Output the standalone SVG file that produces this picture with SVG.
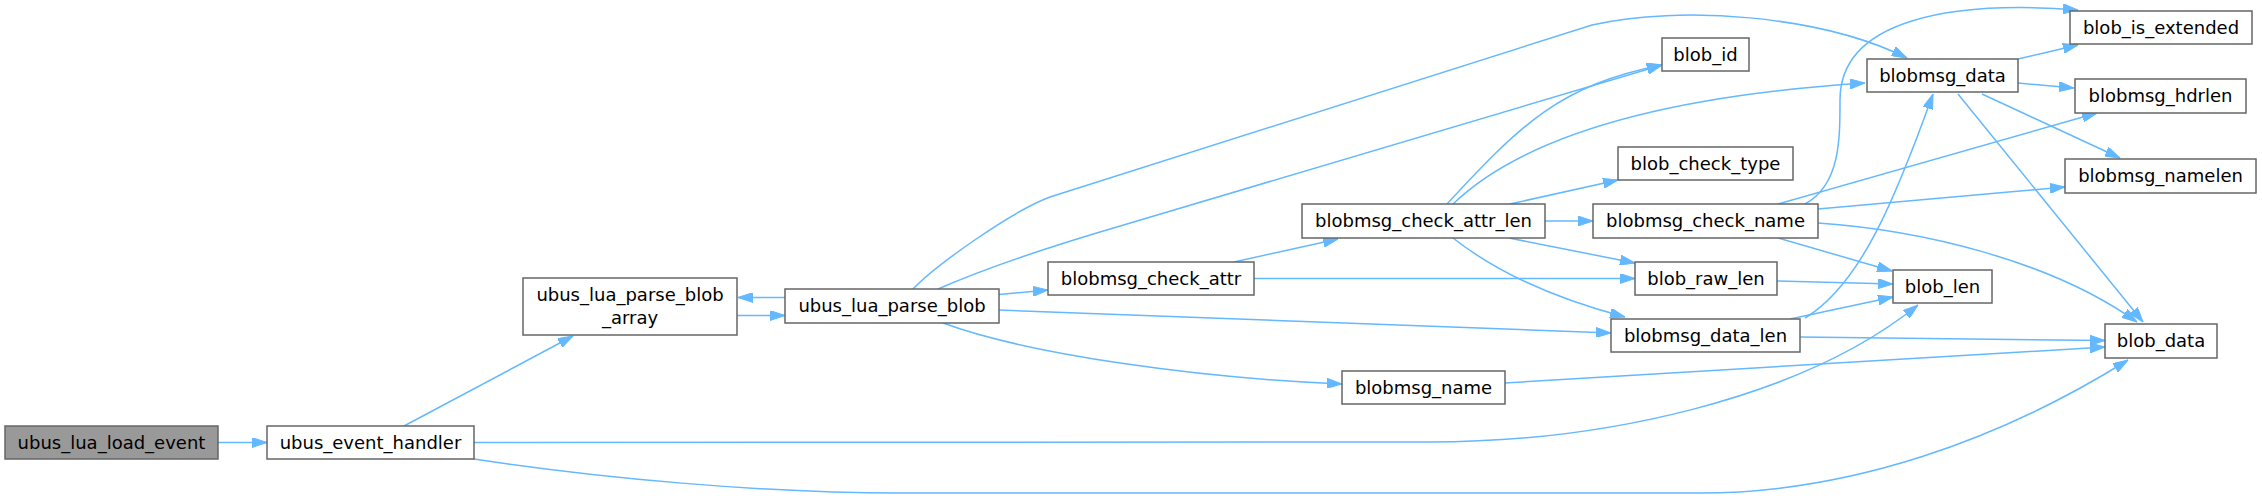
<svg xmlns="http://www.w3.org/2000/svg" width="2262" height="499" viewBox="0 0 2262 499">
<defs>
<style>
.node rect{fill:#ffffff;stroke:#666666;stroke-width:1.5}
.node.start rect{fill:#999999}
.node text{font-family:"DejaVu Sans","Liberation Sans",sans-serif;font-size:18px;fill:#000000;text-anchor:middle}
.edges path{fill:none;stroke:#63b8ff;stroke-width:1.5}
</style>
<marker id="arr" viewBox="0 0 15 10" refX="15" refY="5" markerWidth="15" markerHeight="10" markerUnits="userSpaceOnUse" orient="auto">
<path d="M0,0 L15,5 L0,10 z" fill="#63b8ff" stroke="#63b8ff" stroke-width="1"/>
</marker>
</defs>
<rect x="0" y="0" width="2262" height="499" fill="#ffffff"/>
<g class="edges" marker-end="url(#arr)">
<path marker-end="url(#arr)" d="M218,442.5 L267,442.5"/>
<path marker-end="url(#arr)" d="M404,426 L573,336"/>
<path marker-end="url(#arr)" d="M474,442.5 L1430,442 C1600,442 1800,400 1918,305"/>
<path marker-end="url(#arr)" d="M474,459 C600,478 760,493 900,493 L1700,493 C1850,493 2000,440 2128,360"/>
<path marker-end="url(#arr)" d="M737,315.5 L785,315.5"/>
<path marker-end="url(#arr)" d="M785,297.5 L738,297.5"/>
<path marker-end="url(#arr)" d="M913,289 C935,266 1010,212 1050,197 L1592,25 C1680,5 1820,15 1907,58"/>
<path marker-end="url(#arr)" d="M938,289 Q1000,262 1100,232 L1662,65"/>
<path marker-end="url(#arr)" d="M999,294.5 L1048,290"/>
<path marker-end="url(#arr)" d="M999,310 L1611,333"/>
<path marker-end="url(#arr)" d="M943,323 C1030,355 1200,378 1342,384"/>
<path marker-end="url(#arr)" d="M1234,262 L1338,239"/>
<path marker-end="url(#arr)" d="M1254,278.5 L1635,278.5"/>
<path marker-end="url(#arr)" d="M1447,204 C1520,125 1560,85 1662,65"/>
<path marker-end="url(#arr)" d="M1453,204 C1530,130 1680,95 1865,83"/>
<path marker-end="url(#arr)" d="M1510,204 L1618,180"/>
<path marker-end="url(#arr)" d="M1545,221 L1593,221"/>
<path marker-end="url(#arr)" d="M1509,238 L1635,263"/>
<path marker-end="url(#arr)" d="M1453,238 C1500,275 1560,300 1625,317"/>
<path marker-end="url(#arr)" d="M1805,204 C1840,185 1840,140 1840,100 C1840,20 1950,0 2078,10"/>
<path marker-end="url(#arr)" d="M1778,204 L2097,113"/>
<path marker-end="url(#arr)" d="M1818,209 L2065,187"/>
<path marker-end="url(#arr)" d="M1818,223 C1920,230 2050,260 2137,322"/>
<path marker-end="url(#arr)" d="M1778,238 L1892,271"/>
<path marker-end="url(#arr)" d="M2018,59 L2078,45"/>
<path marker-end="url(#arr)" d="M2018,83 L2074,88"/>
<path marker-end="url(#arr)" d="M1982,94 L2120,158"/>
<path marker-end="url(#arr)" d="M1958,94 L2143,322"/>
<path marker-end="url(#arr)" d="M1777,281 L1893,284"/>
<path marker-end="url(#arr)" d="M1805,318 C1860,285 1895,200 1933,94"/>
<path marker-end="url(#arr)" d="M1790,319 L1893,297"/>
<path marker-end="url(#arr)" d="M1800,337 L2105,340.5"/>
<path marker-end="url(#arr)" d="M1505,383 L2105,347"/>
</g>
<g id="ubus_lua_load_event" class="node start"><rect x="5" y="426" width="213" height="33"/><text x="111.5" y="449">ubus_lua_load_event</text></g>
<g id="ubus_event_handler" class="node"><rect x="267" y="426" width="207" height="33"/><text x="370.5" y="449">ubus_event_handler</text></g>
<g id="ubus_lua_parse_blob_array" class="node"><rect x="523" y="278" width="214" height="57"/><text x="630" y="301">ubus_lua_parse_blob</text><text x="630" y="324">_array</text></g>
<g id="ubus_lua_parse_blob" class="node"><rect x="785" y="289" width="214" height="34"/><text x="892" y="312">ubus_lua_parse_blob</text></g>
<g id="blobmsg_check_attr" class="node"><rect x="1048" y="262" width="206" height="33"/><text x="1151" y="284.5">blobmsg_check_attr</text></g>
<g id="blobmsg_check_attr_len" class="node"><rect x="1302" y="204" width="243" height="34"/><text x="1423.5" y="227">blobmsg_check_attr_len</text></g>
<g id="blobmsg_name" class="node"><rect x="1342" y="371" width="163" height="33"/><text x="1423.5" y="393.5">blobmsg_name</text></g>
<g id="blob_id" class="node"><rect x="1662" y="38" width="87" height="33"/><text x="1705.5" y="60.5">blob_id</text></g>
<g id="blob_check_type" class="node"><rect x="1618" y="147" width="175" height="33"/><text x="1705.5" y="169.5">blob_check_type</text></g>
<g id="blobmsg_check_name" class="node"><rect x="1593" y="204" width="225" height="34"/><text x="1705.5" y="227">blobmsg_check_name</text></g>
<g id="blob_raw_len" class="node"><rect x="1635" y="262" width="142" height="33"/><text x="1706" y="284.5">blob_raw_len</text></g>
<g id="blobmsg_data_len" class="node"><rect x="1611" y="319" width="189" height="33"/><text x="1705.5" y="341.5">blobmsg_data_len</text></g>
<g id="blobmsg_data" class="node"><rect x="1867" y="59" width="151" height="33"/><text x="1942.5" y="81.5">blobmsg_data</text></g>
<g id="blob_len" class="node"><rect x="1893" y="270" width="99" height="33"/><text x="1942.5" y="292.5">blob_len</text></g>
<g id="blob_is_extended" class="node"><rect x="2070" y="11" width="182" height="33"/><text x="2161" y="33.5">blob_is_extended</text></g>
<g id="blobmsg_hdrlen" class="node"><rect x="2075" y="79" width="171" height="34"/><text x="2160.5" y="102">blobmsg_hdrlen</text></g>
<g id="blobmsg_namelen" class="node"><rect x="2065" y="159" width="191" height="34"/><text x="2160.5" y="182">blobmsg_namelen</text></g>
<g id="blob_data" class="node"><rect x="2105" y="324" width="112" height="34"/><text x="2161" y="347">blob_data</text></g>
</svg>
